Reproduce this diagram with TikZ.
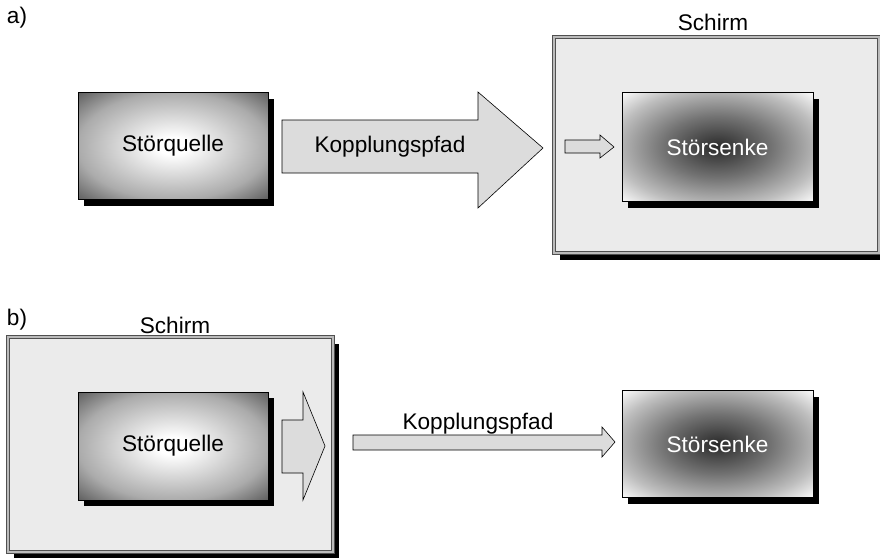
\documentclass[tikz,border=0pt]{standalone}
\usepackage{fontspec}
\setmainfont{Liberation Sans}
\usetikzlibrary{shadows}
\definecolor{qmid}{HTML}{ABABAB}
\definecolor{qedge}{HTML}{5A5A5A}
\definecolor{sdark}{HTML}{2A2A2A}
\definecolor{smid}{HTML}{727272}
\definecolor{slight}{HTML}{BEBEBE}
\definecolor{shield}{HTML}{EBEBEB}
\definecolor{shieldline}{HTML}{505050}
\definecolor{arrowfill}{HTML}{DCDCDC}
\pgfdeclareradialshading{srcshade}{\pgfpoint{0bp}{0bp}}{color(0bp)=(white); color(4bp)=(white); color(25bp)=(qmid); color(36bp)=(qedge); color(50bp)=(qedge)}
\pgfdeclareradialshading{sinkshade}{\pgfpoint{0bp}{0bp}}{color(0bp)=(sdark); color(14bp)=(smid); color(27bp)=(slight); color(36bp)=(white); color(50bp)=(white)}
\tikzset{
  txt/.style={font=\fontsize{22.6}{26}\selectfont, inner sep=0pt},
  boxshadow/.style={drop shadow={shadow xshift=6pt, shadow yshift=-6pt, opacity=1, fill=black}},
  srcbox/.style={draw=black, line width=0.6pt, shading=srcshade, boxshadow, minimum width=190pt, minimum height=107pt, font=\fontsize{22.6}{26}\selectfont},
  sinkbox/.style={draw=black, line width=0.6pt, shading=sinkshade, boxshadow, minimum width=191pt, minimum height=109pt, text=white, font=\fontsize{22.6}{26}\selectfont},
  shieldbox/.style={draw=shieldline, line width=1pt, double=shield!55!gray, double distance=1.4pt, fill=shield, drop shadow={shadow xshift=6pt, shadow yshift=-7pt, opacity=1, fill=black}, minimum width=325pt, minimum height=216pt},
  fatarrow/.style={draw=black, line width=0.6pt, fill=arrowfill, line join=miter}
}
\begin{document}
\begin{tikzpicture}[x=1pt,y=-1pt]
\useasboundingbox (0,0) rectangle (880,557);
% ---- a) ----
\node[txt] (la) at (17,18) {a)};
\node[shieldbox] (schirmA) at (716.5,145) {};
\node[txt] (schirmAtxt) at (713,22) {Schirm};
\node[srcbox] (quelleA) at (173,146) {Störquelle};
\node[sinkbox] (senkeA) at (717.5,147) {Störsenke};
\draw[fatarrow] (282,120) -- (478,120) -- (478,92) -- (543,148) -- (478,208) -- (478,173) -- (282,173) -- cycle;
\node[txt] (kopA) at (390,147) {Kopplungspfad};
\draw[fatarrow] (565,140) -- (600,140) -- (600,135) -- (614,147) -- (600,158) -- (600,153) -- (565,153) -- cycle;
% ---- b) ----
\node[txt] (lb) at (17,320) {b)};
\node[shieldbox, minimum height=215pt] (schirmB) at (170.5,444.5) {};
\node[txt] (schirmBtxt) at (175,325) {Schirm};
\node[srcbox, minimum height=108pt] (quelleB) at (173,446) {Störquelle};
\node[sinkbox, minimum height=107pt] (senkeB) at (717.5,444) {Störsenke};
\draw[fatarrow] (282,420) -- (303,420) -- (303,392) -- (325,446) -- (303,500) -- (303,473) -- (282,473) -- cycle;
\draw[fatarrow] (353,435) -- (602,435) -- (602,427) -- (615,442) -- (602,457) -- (602,450) -- (353,450) -- cycle;
\node[txt] (kopB) at (478,424) {Kopplungspfad};
\end{tikzpicture}
\end{document}
